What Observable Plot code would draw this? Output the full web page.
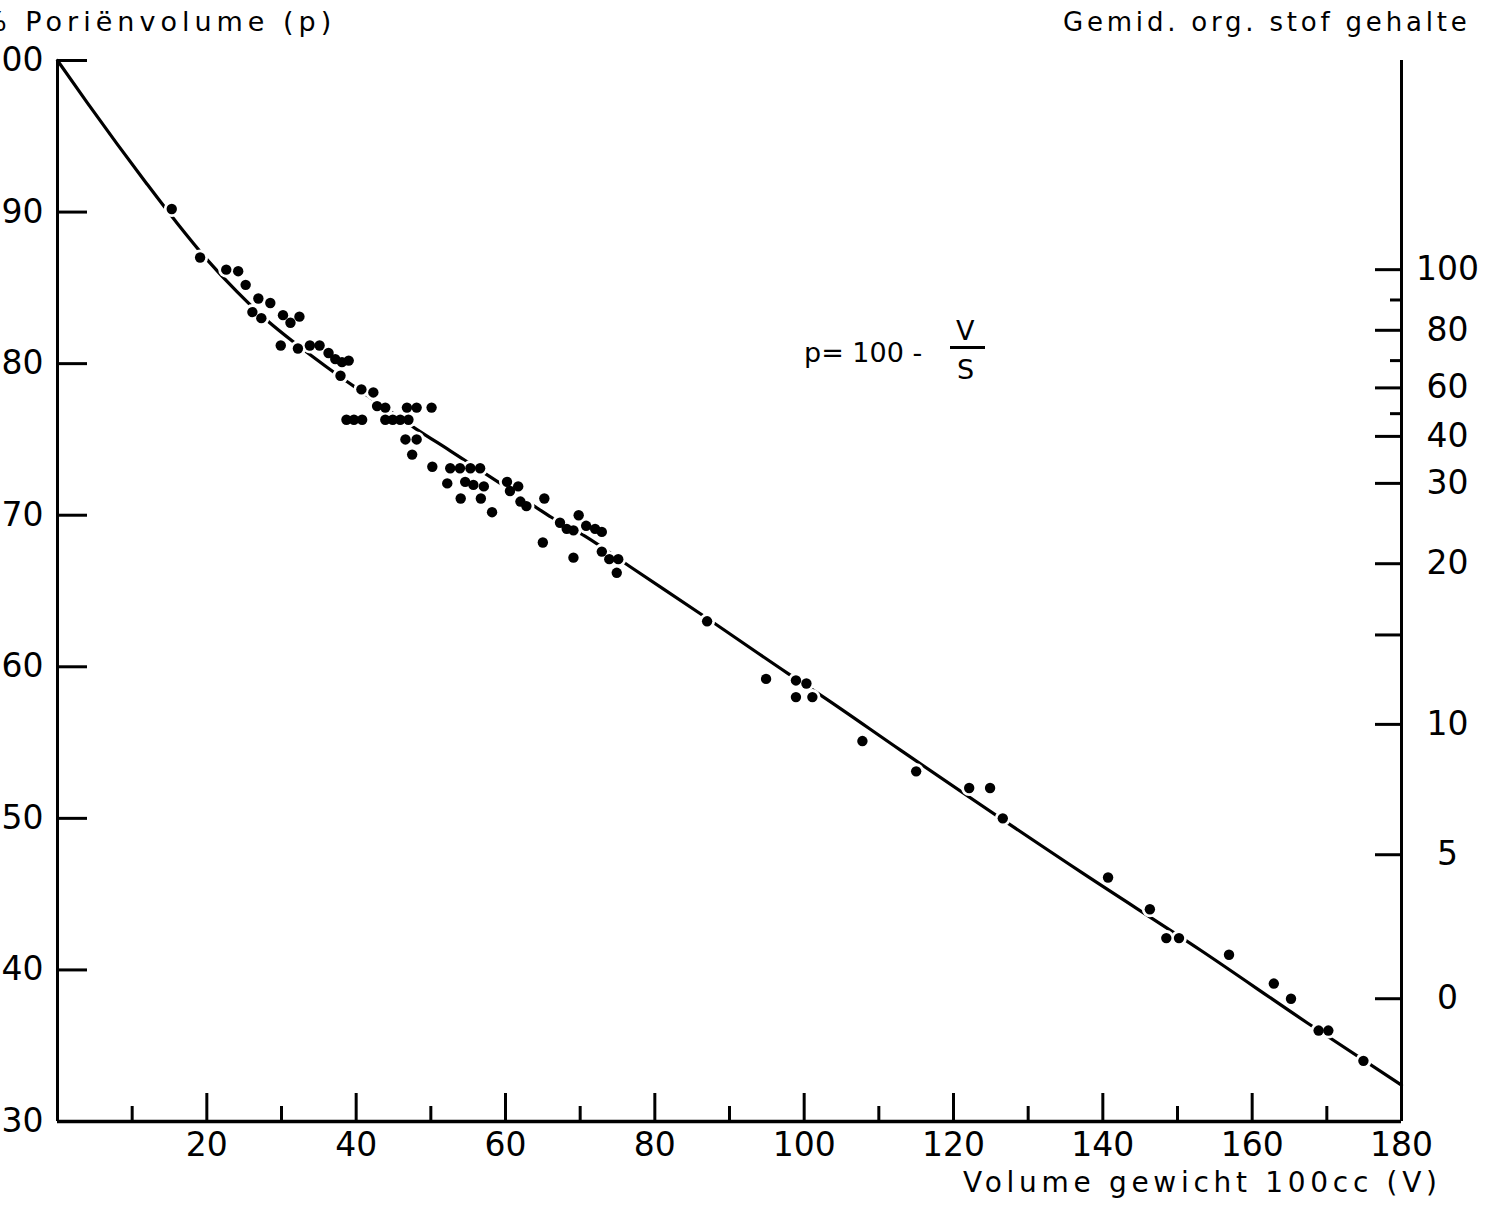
<!DOCTYPE html>
<html><head><meta charset="utf-8">
<script src="https://cdn.jsdelivr.net/npm/d3@7"></script>
<script src="https://cdn.jsdelivr.net/npm/@observablehq/plot@0.6"></script>
<style>
body{margin:0;background:#fff;}
#wrap{position:relative;width:1487px;height:1211px;overflow:hidden;font-family:"DejaVu Sans",sans-serif;color:#000;background:#fff;}
#wrap svg{position:absolute;left:0;top:0;}
.t{position:absolute;white-space:nowrap;line-height:1;}
</style></head><body><div id="wrap"></div>
<script>
// Fitted curve p = 100 - V/S
const curveV = [0,4,8,12,16,20,24,28,32,36,40,44,48,52.6,59.3,64.0,66.2,70.7,76.7,86.1,97.7,102.6,112.9,137.4,153.1,167.4,180];
const curveP = [100,97.2,94.48,91.84,89.28,86.88,84.76,82.88,81.28,79.8,78.4,77.04,75.7,74.25,72.1,70.55,69.85,68.6,66.6,63.5,59.6,58.0,54.5,46.35,41.3,36.5,32.4];

// Measured samples
const sampleV = [15.3,19.1,22.6,24.2,25.2,26.9,28.5,26.1,27.3,30.2,31.2,32.4,29.9,32.2,33.8,35.1,36.3,37.2,38.1,39.0,37.9,40.7,42.3,42.8,43.9,46.8,48.1,50.1,38.7,39.7,40.8,43.9,44.9,45.9,47.0,46.6,48.1,47.5,50.2,52.2,
  52.6,53.9,55.3,56.6,54.6,55.7,57.1,54.0,56.7,58.2,60.2,60.6,61.7,62.0,62.8,65.2,65.0,67.3,68.2,69.1,69.8,70.8,72.0,72.9,69.1,72.9,73.9,75.1,74.9,
  87.0,94.9,98.9,100.3,98.9,101.1,107.8,115.0,122.1,124.9,126.6,140.7,146.3,148.5,150.2,156.9,162.9,165.2,168.9,170.2,174.9];
const sampleP = [90.2,87.0,86.2,86.1,85.2,84.3,84.0,83.4,83.0,83.2,82.7,83.1,81.2,81.0,81.2,81.2,80.7,80.3,80.1,80.2,79.2,78.3,78.1,77.2,77.1,77.1,77.1,77.1,76.3,76.3,76.3,76.3,76.3,76.3,76.3,75.0,75.0,74.0,73.2,72.1,
  73.1,73.1,73.1,73.1,72.2,72.0,71.9,71.1,71.1,70.2,72.2,71.6,71.9,70.9,70.6,71.1,68.2,69.5,69.1,69.0,70.0,69.3,69.1,68.9,67.2,67.6,67.1,67.1,66.2,
  63.0,59.2,59.1,58.9,58.0,58.0,55.1,53.1,52.0,52.0,50.0,46.1,44.0,42.1,42.1,41.0,39.1,38.1,36.0,36.0,34.0];

// Axis ticks
const xMajor = [20,40,60,80,100,120,140,160];
const xMinor = [10,30,50,70,90,110,130,150,170];
const xLabels = [20,40,60,80,100,120,140,160,180];
const yTicks = [30,40,50,60,70,80,90,100];

// Secondary scale: average organic matter content, at equivalent pore volume
const orgLabels = ["100","80","60","40","30","20","10","5","0"];
const orgLabelP = [86.2,82.2,78.4,75.2,72.1,66.8,56.2,47.6,38.1];
const orgLongP = [86.2,82.2,78.4,75.2,72.1,66.8,62.1,56.2,47.6,38.1];
const orgShortP = [84.2,80.2,76.7];

const curve = curveV.map((v, i) => ({V: v, p: curveP[i]}));
const samples = sampleV.map((v, i) => ({V: v, p: sampleP[i]}));
const orgLabelMap = new Map(orgLabelP.map((p, i) => [p, orgLabels[i]]));

const chart = Plot.plot({
  width: 1487,
  height: 1211,
  marginLeft: 57,
  marginRight: 86,
  marginTop: 60,
  marginBottom: 90,
  x: {domain: [0, 180]},
  y: {domain: [30, 100]},
  style: {fontFamily: "DejaVu Sans", fontSize: "33px", color: "black", background: "white"},
  marks: [
    Plot.line(curve, {x: "V", y: "p", stroke: "black", strokeWidth: 3.2, curve: "monotone-x"}),
    Plot.dot(samples, {x: "V", y: "p", r: 8, fill: "white", stroke: "none"}),
    Plot.dot(samples, {x: "V", y: "p", r: 5.2, fill: "black", stroke: "none"}),
    Plot.ruleX([0, 180], {stroke: "black", strokeWidth: 3}),
    Plot.ruleY([30], {stroke: "black", strokeWidth: 3.5}),
    Plot.axisX(xMajor, {tickSize: -28, strokeWidth: 3, fill: "none", label: null}),
    Plot.axisX(xMinor, {tickSize: -15, strokeWidth: 3, fill: "none", label: null}),
    Plot.axisX(xLabels, {tickSize: 0, tickPadding: 11, label: null}),
    Plot.axisY(yTicks, {anchor: "left", tickSize: -30, strokeWidth: 3, fill: "none", label: null}),
    Plot.axisY(yTicks, {anchor: "left", tickSize: 0, tickPadding: 14, label: null}),
    Plot.axisY(orgLongP, {anchor: "right", tickSize: -27, strokeWidth: 3, fill: "none", label: null}),
    Plot.axisY(orgShortP, {anchor: "right", tickSize: -12, strokeWidth: 3, fill: "none", label: null}),
    Plot.axisY(orgLabelP, {anchor: "right", tickSize: 0, tickPadding: 46, textAnchor: "middle", tickFormat: d => orgLabelMap.get(d), label: null})
  ]
});

const wrap = document.getElementById("wrap");
wrap.appendChild(chart);

function addText(txt, css) {
  const d = document.createElement("div");
  d.className = "t";
  d.textContent = txt;
  Object.assign(d.style, css);
  wrap.appendChild(d);
  return d;
}
addText("% Poriënvolume (p)", {left: "-19px", top: "8px", fontSize: "27px", letterSpacing: "5px"});
addText("Gemid. org. stof gehalte", {left: "1063px", top: "9px", fontSize: "26px", letterSpacing: "3.8px"});
addText("Volume gewicht 100cc (V)", {left: "963px", top: "1169px", fontSize: "28px", letterSpacing: "4.7px"});
addText("p= 100 -", {left: "804px", top: "339px", fontSize: "27px"});
addText("V", {left: "956px", top: "317px", fontSize: "27px"});
addText("S", {left: "957px", top: "356px", fontSize: "27px"});
const bar = document.createElement("div");
Object.assign(bar.style, {position: "absolute", left: "950px", top: "346px", width: "35px", height: "3px", background: "#000"});
wrap.appendChild(bar);
</script>
</body></html>
